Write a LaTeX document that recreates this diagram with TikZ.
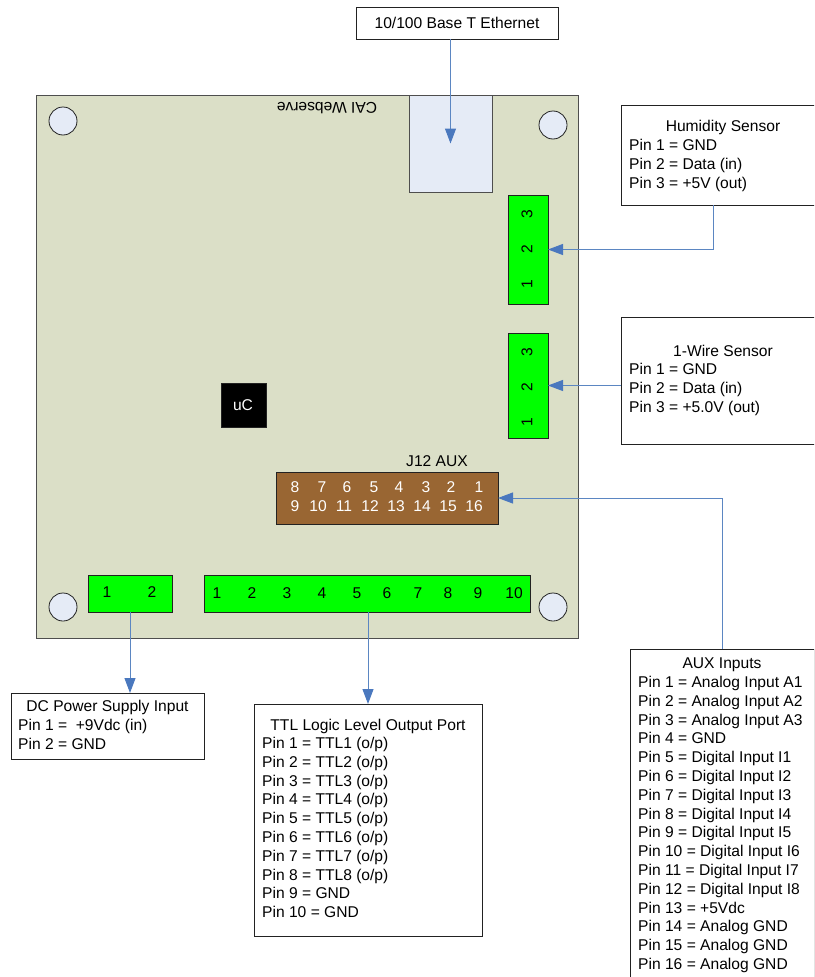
\documentclass[tikz,border=0pt]{standalone}
\usepackage{fontspec}
\setmainfont{Liberation Sans}
\usetikzlibrary{calc,arrows.meta}
\definecolor{boardc}{HTML}{DBDFC7}
\definecolor{holec}{HTML}{E5EBF6}
\definecolor{linkc}{HTML}{5B86C2}
\definecolor{headc}{HTML}{4A78BE}
\definecolor{brownc}{HTML}{996633}
\definecolor{edgec}{HTML}{222222}
\tikzset{
 base/.style={draw=edgec,line width=1pt,anchor=north west,inner sep=0,outer sep=0},
 board/.style={base,fill=boardc,draw=edgec!80},
 infobox/.style={base,fill=white},
 greenc/.style={base,fill=green},
 brownbox/.style={base,fill=brownc},
 hole/.style={circle,draw=edgec,line width=.8pt,fill=holec,minimum size=28pt,inner sep=0},
 lab/.style={inner sep=0,font=\fontsize{15.6}{17}\selectfont},
 wlab/.style={lab,text=white},
 pins/.style={inner sep=0,anchor=north west,align=left,font=\fontsize{15.6}{18.8}\selectfont},
 link/.style={draw=linkc,line width=1pt,-{Triangle[length=15pt,width=11pt,fill=headc,color=headc]}},
}
\newcommand{\rect}[6]{\node[#1,minimum width=#4pt-#2pt,minimum height=#5pt-#3pt] (#6) at (#2,#3) {};}
\begin{document}
\begin{tikzpicture}[x=1pt,y=-1pt]
\useasboundingbox (0,0) rectangle (814,977);
\begin{scope}
\clip (0,0) rectangle (814,977);
\rect{board}{36}{95}{578}{638}{pcb}
\rect{base,fill=holec,draw=edgec!80}{409}{95}{492}{192}{rj}
\node[lab,rotate=180] (cai) at (327,108) {CAI Webserve};
\node[hole] (h1) at (63,121) {};
\node[hole] (h2) at (553,125) {};
\node[hole] (h3) at (63,607) {};
\node[hole] (h4) at (553,607) {};
\rect{infobox}{356}{7}{558}{39}{eth}
\node[lab] (ethl) at (457,23) {10/100 Base T Ethernet};
\rect{greenc}{508}{195}{548}{304}{ja}
\rect{greenc}{508}{333}{548}{438}{jb}
\foreach \t/\y/\n in {3/214/a3,2/249/a2,1/284/a1,3/352/b3,2/387/b2,1/422/b1}
  \node[lab,rotate=90] (\n) at (527,\y) {\t};
\rect{infobox}{621}{105}{818}{205}{hum}
\node[lab] (humt) at (723,127) {Humidity Sensor};
\node[pins] (humw) at (629,139) {Pin 1 = GND\\Pin 2 = Data (in)\\Pin 3 = +5V (out)};
\rect{infobox}{621}{317}{818}{444}{wire}
\node[lab] (wiret) at (723,351) {1-Wire Sensor};
\node[pins] (wirep) at (629,363) {Pin 1 = GND\\Pin 2 = Data (in)\\Pin 3 = +5.0V (out)};
\rect{base,fill=black}{221}{383}{266}{427}{uc}
\node[wlab] (ucl) at (243,405) {uC};
\node[lab] (jl) at (437,461) {J12 AUX};
\rect{brownbox}{276}{472}{498}{524}{j12}
\foreach \t/\x in {8/295,7/322,6/347,5/374,4/399,3/426,2/451,1/479}
  \node[wlab] (u\t) at (\x,487) {\t};
\foreach \t/\x in {9/295,10/318,11/344,12/370,13/396,14/422,15/448,16/474}
  \node[wlab] (u\t) at (\x,506) {\t};
\rect{greenc}{88}{575}{172}{612}{gtwo}
\node[lab] (gt1) at (107,592) {1};
\node[lab] (gt2) at (152,592) {2};
\rect{greenc}{204}{575}{530}{612}{gten}
\foreach \t/\x in {1/217,2/252,3/287,4/322,5/357,6/387,7/418,8/448,9/478,10/514}
  \node[lab] (k\t) at (\x,593) {\t};
\rect{infobox}{11}{693}{204}{759}{dc}
\node[lab] (dct) at (107.5,707) {DC Power Supply Input};
\node[pins] (dcp) at (18,719) {Pin 1 =\ \ +9Vdc (in)\\Pin 2 = GND};
\rect{infobox}{254}{704}{482}{936}{ttl}
\node[lab] (ttlt) at (368,726) {TTL Logic Level Output Port};
\node[pins] (ttlp) at (262,737) {Pin 1 = TTL1 (o/p)\\Pin 2 = TTL2 (o/p)\\Pin 3 = TTL3 (o/p)\\Pin 4 = TTL4 (o/p)\\Pin 5 = TTL5 (o/p)\\Pin 6 = TTL6 (o/p)\\Pin 7 = TTL7 (o/p)\\Pin 8 = TTL8 (o/p)\\Pin 9 = GND\\Pin 10 = GND};
\rect{infobox}{630}{649}{814}{980}{aux}
\node[lab] (auxt) at (722,665) {AUX Inputs};
\node[pins] (auxp) at (638,676) {Pin 1 = Analog Input A1\\Pin 2 = Analog Input A2\\Pin 3 = Analog Input A3\\Pin 4 = GND\\Pin 5 = Digital Input I1\\Pin 6 = Digital Input I2\\Pin 7 = Digital Input I3\\Pin 8 = Digital Input I4\\Pin 9 = Digital Input I5\\Pin 10 = Digital Input I6\\Pin 11 = Digital Input I7\\Pin 12 = Digital Input I8\\Pin 13 = +5Vdc\\Pin 14 = Analog GND\\Pin 15 = Analog GND\\Pin 16 = Analog GND};
\draw[link] (eth.south -| rj.center) -- (rj.center);
\draw[link] ([xshift=-6.5pt]hum.south) |- (ja.east);
\draw[link] (wire.west |- jb.east) -- (jb.east);
\draw[link] (aux.north) |- (j12.east);
\draw[link] (gtwo.south) -- (gtwo.south |- dc.north);
\draw[link] (gten.south -| ttl.north) -- (ttl.north);
\end{scope}
\end{tikzpicture}
\end{document}
